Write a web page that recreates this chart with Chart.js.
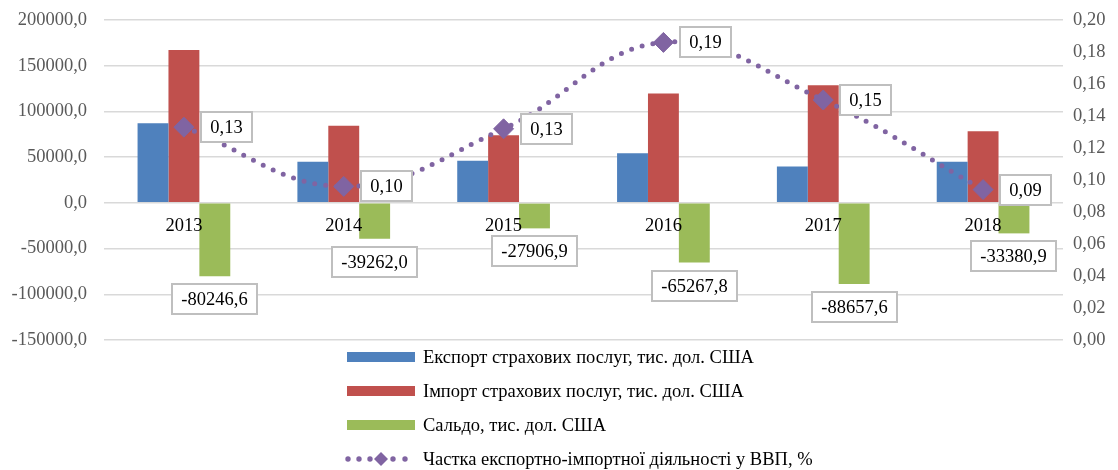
<!DOCTYPE html>
<html>
<head>
<meta charset="utf-8">
<script src="https://cdn.jsdelivr.net/npm/chart.js@4/dist/chart.umd.min.js"></script>
<style>
  html, body { margin: 0; padding: 0; background: #ffffff; }
  #wrap { width: 1118px; height: 470px; position: relative; }
  canvas { display: block; }
</style>
</head>
<body>
<div id="wrap"><canvas id="c" width="1118" height="470"></canvas></div>
<script>
const categories = ['2013', '2014', '2015', '2016', '2017', '2018'];
const exportVals = [87000, 44900, 46000, 54200, 39800, 45000];
const importVals = [167300, 84200, 74000, 119500, 128500, 78400];
const saldoVals = [-80246.6, -39262.0, -27906.9, -65267.8, -88657.6, -33380.9];
const shareVals = [0.133, 0.096, 0.132, 0.186, 0.150, 0.094];
const seriesNames = [
  'Експорт страхових послуг, тис. дол. США',
  'Імпорт страхових послуг, тис. дол. США',
  'Сальдо, тис. дол. США',
  'Частка експортно-імпортної діяльності у ВВП, %'
];

const FONT = '"Liberation Serif", "Times New Roman", serif';
const FS = 18.5;
const C_BLUE = '#4F81BD', C_RED = '#C0504D', C_GREEN = '#9BBB59', C_PURPLE = '#8064A2';

function fmtComma(v, d) { return v.toFixed(d).replace('.', ','); }

function drawBoxLabel(ctx, text, cx, cy) {
  ctx.save();
  ctx.font = FS + 'px ' + FONT;
  const w = Math.round(ctx.measureText(text).width + 19);
  const h = 30;
  const x = Math.round(cx - w / 2), y = Math.round(cy - h / 2);
  ctx.fillStyle = '#ffffff';
  ctx.fillRect(x, y, w, h);
  ctx.strokeStyle = '#bfbfbf';
  ctx.lineWidth = 2;
  ctx.strokeRect(x, y, w, h);
  ctx.fillStyle = '#000000';
  ctx.textAlign = 'center';
  ctx.textBaseline = 'middle';
  ctx.fillText(text, x + w / 2, y + h / 2 + 1);
  ctx.restore();
  return w;
}

const labelPlugin = {
  id: 'boxLabels',
  afterDatasetsDraw(chart) {
    const ctx = chart.ctx;
    const saldoMeta = chart.getDatasetMeta(2);
    saldoMeta.data.forEach((bar, i) => {
      const txt = fmtComma(saldoVals[i], 1);
      drawBoxLabel(ctx, txt, bar.x, bar.y + 8 + 15);
    });
    const lineMeta = chart.getDatasetMeta(3);
    ctx.save();
    ctx.font = FS + 'px ' + FONT;
    lineMeta.data.forEach((pt, i) => {
      const txt = fmtComma(Math.round(shareVals[i] * 100) / 100, 2);
      const w = Math.round(ctx.measureText(txt).width + 19);
      drawBoxLabel(ctx, txt, pt.x + 17 + w / 2, pt.y);
    });
    ctx.restore();
  },
  afterDraw(chart) {
    const ctx = chart.ctx;
    const x0 = 347, x1 = 415;
    const colors = [C_BLUE, C_RED, C_GREEN];
    ctx.save();
    ctx.font = FS + 'px ' + FONT;
    ctx.textBaseline = 'middle';
    ctx.textAlign = 'left';
    for (let i = 0; i < 4; i++) {
      const y = 357 + i * 34;
      if (i < 3) {
        ctx.fillStyle = colors[i];
        ctx.fillRect(x0, y - 5, x1 - x0, 10);
      } else {
        ctx.fillStyle = C_PURPLE;
        [348, 359, 370, 393, 405].forEach(dx => {
          ctx.beginPath();
          ctx.arc(dx, y, 2.7, 0, Math.PI * 2);
          ctx.fill();
        });
        ctx.beginPath();
        ctx.moveTo(381 - 7, y);
        ctx.lineTo(381, y - 7);
        ctx.lineTo(381 + 7, y);
        ctx.lineTo(381, y + 7);
        ctx.closePath();
        ctx.fill();
      }
      ctx.fillStyle = '#000000';
      ctx.fillText(seriesNames[i], 423, y + 1);
    }
    ctx.restore();
  }
};

new Chart(document.getElementById('c'), {
  data: {
    labels: categories,
    datasets: [
      { type: 'bar', label: seriesNames[0], data: exportVals, backgroundColor: C_BLUE, yAxisID: 'y', order: 1 },
      { type: 'bar', label: seriesNames[1], data: importVals, backgroundColor: C_RED, yAxisID: 'y', order: 1 },
      { type: 'bar', label: seriesNames[2], data: saldoVals, backgroundColor: C_GREEN, yAxisID: 'y', order: 1 },
      { type: 'line', label: seriesNames[3], data: shareVals, yAxisID: 'y1', order: 0,
        borderColor: C_PURPLE, borderWidth: 5, borderDash: [0, 11], borderCapStyle: 'round',
        tension: 0.4, fill: false,
        pointStyle: 'rectRot', pointRadius: 10, pointBackgroundColor: C_PURPLE,
        pointBorderColor: C_PURPLE, pointBorderWidth: 1 }
    ]
  },
  options: {
    responsive: false,
    devicePixelRatio: 1,
    animation: false,
    layout: { padding: { left: 0, right: 0, top: 20, bottom: 130 } },
    datasets: { bar: { categoryPercentage: 0.58, barPercentage: 1.0 } },
    plugins: { legend: { display: false }, tooltip: { enabled: false } },
    scales: {
      x: {
        position: { y: 0 },
        grid: { display: false, drawTicks: false },
        border: { display: false },
        ticks: { z: 1, color: '#000000', font: { family: FONT, size: FS }, padding: 12, maxRotation: 0 }
      },
      y: {
        position: 'left',
        min: -150000, max: 200000,
        afterFit(s) { s.width = 104; },
        grid: { color: '#d9d9d9', lineWidth: 1.5, drawTicks: true, tickLength: 17, tickColor: 'rgba(0,0,0,0)' },
        border: { display: false },
        ticks: { stepSize: 50000, color: '#595959', font: { family: FONT, size: FS }, padding: 0,
          callback: v => fmtComma(v, 1) }
      },
      y1: {
        position: 'right',
        min: 0, max: 0.2,
        afterFit(s) { s.width = 55; },
        grid: { display: false, drawTicks: true, tickLength: 10, tickColor: 'rgba(0,0,0,0)' },
        border: { display: false },
        ticks: { stepSize: 0.02, color: '#595959', font: { family: FONT, size: FS }, padding: 0,
          callback: v => fmtComma(v, 2) }
      }
    }
  },
  plugins: [labelPlugin]
});
</script>
</body>
</html>
